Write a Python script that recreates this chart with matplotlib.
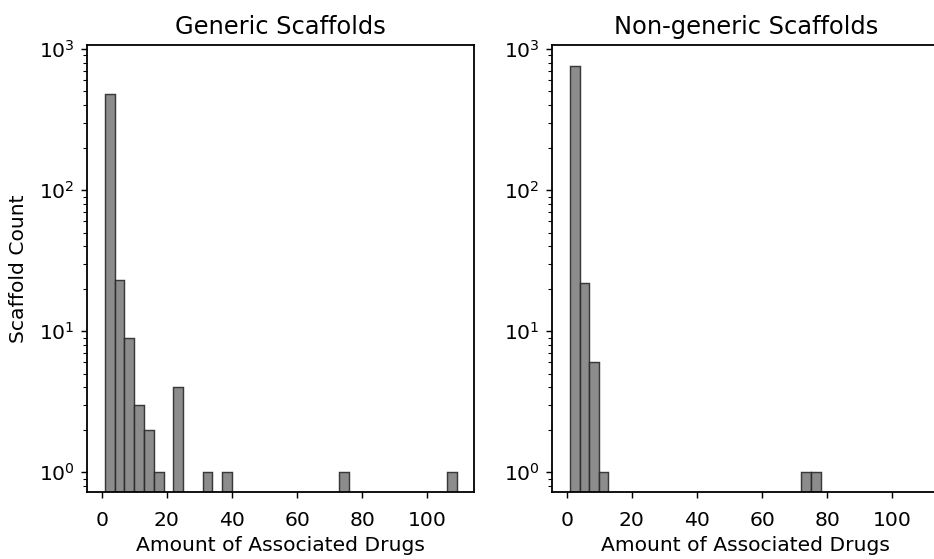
"""Histogram of associated-drug counts per scaffold, generic vs non-generic."""

import numpy as np
import matplotlib

matplotlib.use("Agg")
import matplotlib.pyplot as plt

# Generic scaffolds: 36 bins of width 3 spanning 1..109
GENERIC_RANGE = (1, 109)
GENERIC_COUNTS = [476, 23, 9, 3, 2, 1, 0, 4, 0, 0, 1, 0, 1,
                  0, 0, 0, 0, 0, 0, 0, 0, 0, 0, 0, 1,
                  0, 0, 0, 0, 0, 0, 0, 0, 0, 0, 1]

# Non-generic scaffolds: 26 bins spanning 1..78
NONGENERIC_RANGE = (1, 78)
NONGENERIC_COUNTS = [760, 22, 6, 1,
                     0, 0, 0, 0, 0, 0, 0, 0, 0, 0, 0, 0, 0, 0, 0, 0, 0, 0, 0, 0,
                     1, 1]

TITLES = ["Generic Scaffolds", "Non-generic Scaffolds"]
X_LABEL = "Amount of Associated Drugs"
Y_LABEL = "Scaffold Count"

plt.rcParams["font.size"] = 11.2
plt.rcParams["axes.titlesize"] = 13.4
plt.rcParams["axes.linewidth"] = 1.0
plt.rcParams["xtick.major.pad"] = 7.0


def draw(ax, rng, counts, title):
    edges = np.linspace(rng[0], rng[1], len(counts) + 1)
    centers = (edges[:-1] + edges[1:]) / 2
    counts = np.asarray(counts, dtype=float)
    keep = counts > 0
    ax.hist(centers[keep], bins=edges, weights=counts[keep],
            color="gray", edgecolor="#2a2a2a", alpha=0.9, linewidth=0.8)
    ax.set_yscale("log")
    ax.set_title(title)
    ax.set_xlabel(X_LABEL, labelpad=3)


def main() -> None:
    fig = plt.figure(figsize=(934 / 130, 559 / 130), dpi=130)
    ax1 = fig.add_axes([87.3 / 934, 1 - 492.3 / 559, 387 / 934, 447 / 559])
    ax2 = fig.add_axes([552.3 / 934, 1 - 492.3 / 559, 387 / 934, 447 / 559])

    draw(ax1, GENERIC_RANGE, GENERIC_COUNTS, TITLES[0])
    draw(ax2, NONGENERIC_RANGE, NONGENERIC_COUNTS, TITLES[1])
    ax1.set_ylabel(Y_LABEL, labelpad=6)

    for ax in (ax1, ax2):
        ax.set_xlim(-4.4, 114.4)
        ax.set_ylim(0.72, 1062)
        ax.set_xticks([0, 20, 40, 60, 80, 100])

    fig.savefig("out.png", dpi=130)


if __name__ == "__main__":
    main()
